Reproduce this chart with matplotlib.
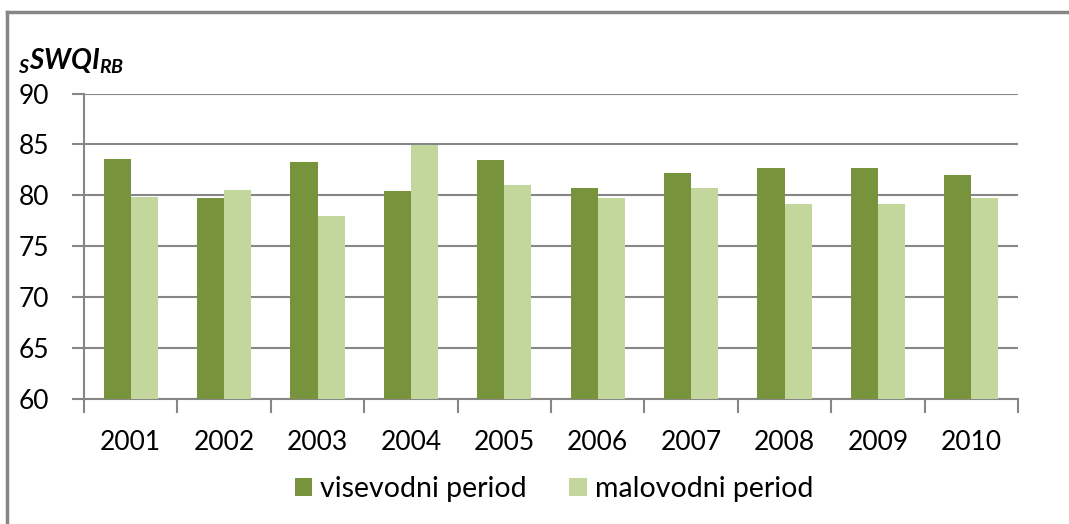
import matplotlib.pyplot as plt
import numpy as np
from matplotlib.lines import Line2D

plt.rcParams['font.family'] = ['Lato', 'DejaVu Sans']
plt.rcParams['mathtext.fontset'] = 'custom'
plt.rcParams['mathtext.rm'] = 'Lato:italic:bold'
plt.rcParams['mathtext.it'] = 'Lato:italic:bold'
plt.rcParams['mathtext.bf'] = 'Lato:italic:bold'

years = ['2001', '2002', '2003', '2004', '2005', '2006', '2007', '2008', '2009', '2010']
visevodni = [83.6, 79.7, 83.3, 80.4, 83.5, 80.7, 82.2, 82.7, 82.7, 82.0]
malovodni = [79.8, 80.5, 78.0, 84.9, 81.0, 79.7, 80.7, 79.1, 79.1, 79.7]
labels = ['visevodni period', 'malovodni period']

dark = '#77933C'
light = '#C3D69B'
gray = '#868686'

fig = plt.figure(figsize=(10.69, 5.24), dpi=100)
ax = fig.add_axes([84 / 1069, 1 - 399 / 524, (1018 - 84) / 1069, (399 - 93.5) / 524])

x = np.arange(len(years))
w = 0.29
ax.bar(x - w / 2, visevodni, w, color=dark, label=labels[0], zorder=3)
ax.bar(x + w / 2, malovodni, w, color=light, label=labels[1], zorder=3)

ax.set_xlim(-0.5, len(years) - 0.5)
ax.set_ylim(60, 90)
ax.set_yticks(np.arange(60, 91, 5))
ax.yaxis.grid(True, color=gray, linewidth=1.5, zorder=0)

ax.set_xticks(x)
ax.set_xticklabels(years)
ax.set_xticks(np.arange(-0.5, len(years)), minor=True)
ax.tick_params(axis='x', which='major', length=0, pad=22, labelsize=19)
ax.tick_params(axis='x', which='minor', length=10, width=1.5, color=gray)
ax.tick_params(axis='y', length=9, width=1.5, color=gray, pad=16, labelsize=19)

for s in ['top', 'right']:
    ax.spines[s].set_visible(False)
for s in ['left', 'bottom']:
    ax.spines[s].set_color(gray)
    ax.spines[s].set_linewidth(1.5)

fig.text(18 / 1069, 1 - 69 / 524, r'$_{S}\mathrm{SWQI}_{RB}$', fontsize=20,
         ha='left', va='baseline')

fig.legend(loc='center', bbox_to_anchor=(554 / 1069, 1 - 489 / 524), ncol=2,
           frameon=False, fontsize=20.5, handlelength=0.6, handleheight=0.6,
           handletextpad=0.3, columnspacing=1.5)

# frame around the chart (only top and left are inside the picture)
fig.add_artist(Line2D([7 / 1069, 1], [1 - 12 / 524, 1 - 12 / 524], color=gray,
                      linewidth=2.5, transform=fig.transFigure))
fig.add_artist(Line2D([7 / 1069, 7 / 1069], [0, 1 - 12 / 524], color=gray,
                      linewidth=2.5, transform=fig.transFigure))

fig.savefig('out.png', dpi=100)
